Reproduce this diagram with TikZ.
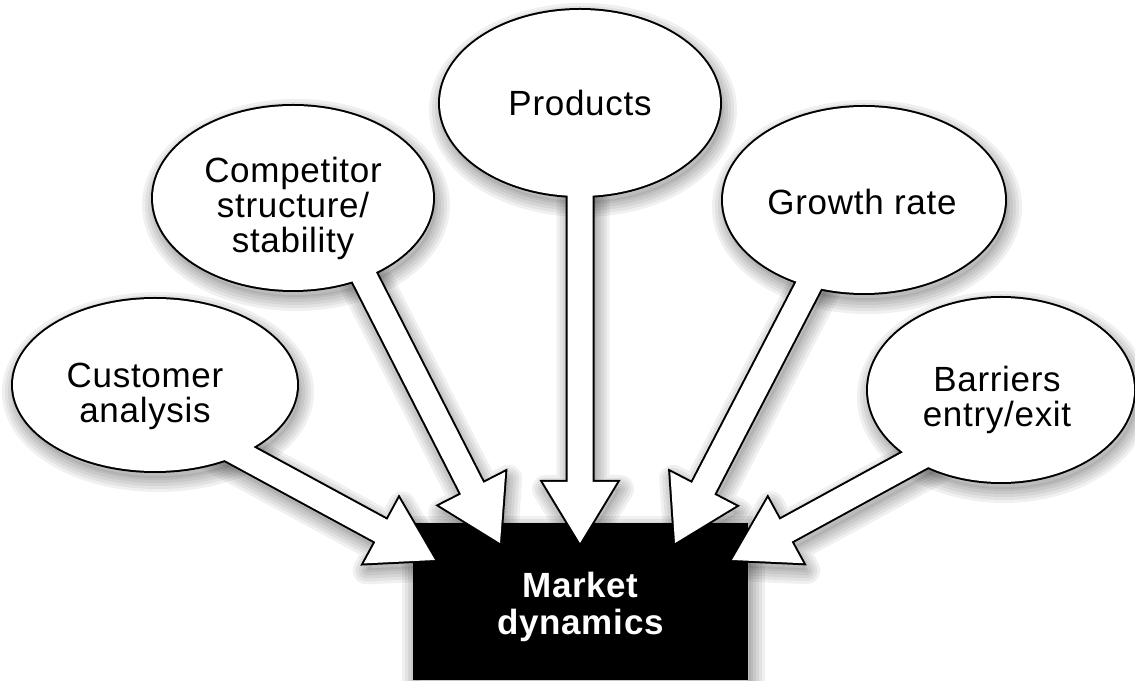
\documentclass[tikz,border=0pt]{standalone}
\usepackage{fontspec}
\newfontfamily\bubblefont{Liberation Sans}[LetterSpace=2]
\usetikzlibrary{calc,shapes.geometric}
\pgfdeclarelayer{shade}
\pgfdeclarelayer{rim}
\pgfdeclarelayer{fill}
\pgfsetlayers{shade,rim,fill,main}
\newcommand{\bubblepath}[1]{let \p1=($(#1.east)-(#1.center)$), \p2=($(#1.north)-(#1.center)$) in (#1.center) ellipse [x radius=\x1, y radius=\y2]}
\newcommand{\blockarrow}[2]{($(#1)!12.5pt!90:(#2)$) -- ($(#2)!61pt!(#1)!12.5pt!90:(#2)$) -- ($(#2)!61pt!(#1)!37pt!90:(#2)$) -- (#2) -- ($(#2)!61pt!(#1)!37pt!-90:(#2)$) -- ($(#2)!61pt!(#1)!12.5pt!-90:(#2)$) -- ($(#1)!12.5pt!-90:(#2)$) -- cycle}

\begin{document}
\begin{tikzpicture}[x=1pt, y=1pt,
  bubble/.style={ellipse, fill=white, inner sep=0pt, outer sep=0pt},
  words/.style={align=center, inner sep=0pt, font=\bubblefont\fontsize{35}{35}\selectfont},
  hub/.style={rectangle, fill=black, inner sep=0pt, outer sep=0pt, minimum width=335pt, minimum height=157pt},
  rim/.style={draw=black, line width=4pt, line join=miter},
  haze/.style={transform canvas={shift={(3,-7)}}, black, opacity=0.06, line join=round}]
\useasboundingbox (0,0) rectangle (1135,680);
\node[bubble, minimum width=284pt, minimum height=172pt] (cust) at (155,295) {};
\node[bubble, minimum width=280pt, minimum height=184pt] (comp) at (293,482) {};
\node[bubble, minimum width=280pt, minimum height=186pt] (prod) at (580,577) {};
\node[bubble, minimum width=282pt, minimum height=186pt] (grow) at (864,480) {};
\node[bubble, minimum width=266pt, minimum height=184pt] (barr) at (1001,290) {};
\node[words] (cust-txt) at ([shift={(-10,-11)}]cust.center) {Customer\\analysis};
\node[words] (comp-txt) at ([yshift=-10pt]comp.center) {Competitor\\structure/\\stability};
\node[words] (prod-txt) at (prod.center) {Products};
\node[words] (grow-txt) at ([shift={(-2,-2)}]grow.center) {Growth rate};
\node[words] (barr-txt) at ([shift={(-4,-10)}]barr.center) {Barriers\\entry/exit};
\coordinate (cust-tip) at (435,120);
\coordinate (comp-tip) at (500,137);
\coordinate (prod-tip) at (580,137);
\coordinate (grow-tip) at (675,137);
\coordinate (barr-tip) at (732,120);
\foreach \b/\dx/\dy in {cust/0/-23, comp/31/0, prod/0/0, grow/-11/0, barr/0/-23}
  \coordinate (\b-foot) at ([shift={(\dx,\dy)}]\b.center);
\begin{pgfonlayer}{rim}
\node[hub] (mkt) at (580.5,78.5) {};
\foreach \b in {cust,comp,prod,grow,barr} {
  \draw[rim] \bubblepath{\b};
  \draw[rim] \blockarrow{\b-foot}{\b-tip};
}
\end{pgfonlayer}
\begin{pgfonlayer}{shade}
\begin{scope}[haze]
\foreach \b in {cust,comp,prod,grow,barr} {
  \fill \bubblepath{\b};
  \fill \blockarrow{\b-foot}{\b-tip};
  \foreach \w in {4,10,16,22,28} {
    \draw[line width=\w pt] \bubblepath{\b};
    \draw[line width=\w pt] \blockarrow{\b-foot}{\b-tip};
  }
}
\fill (mkt.south west) rectangle (mkt.north east);
\foreach \w in {4,10,16,22,28}
  \draw[line width=\w pt] (mkt.south west) rectangle (mkt.north east);
\end{scope}
\end{pgfonlayer}
\begin{pgfonlayer}{fill}
\foreach \b in {cust,comp,prod,grow,barr}
  \fill[white] \blockarrow{\b-foot}{\b-tip};
\end{pgfonlayer}
\node[words, text=white, font=\bubblefont\bfseries\fontsize{35}{37}\selectfont] (mkt-txt) at ([yshift=-5pt]mkt.center) {Market\\dynamics};
\end{tikzpicture}
\end{document}
